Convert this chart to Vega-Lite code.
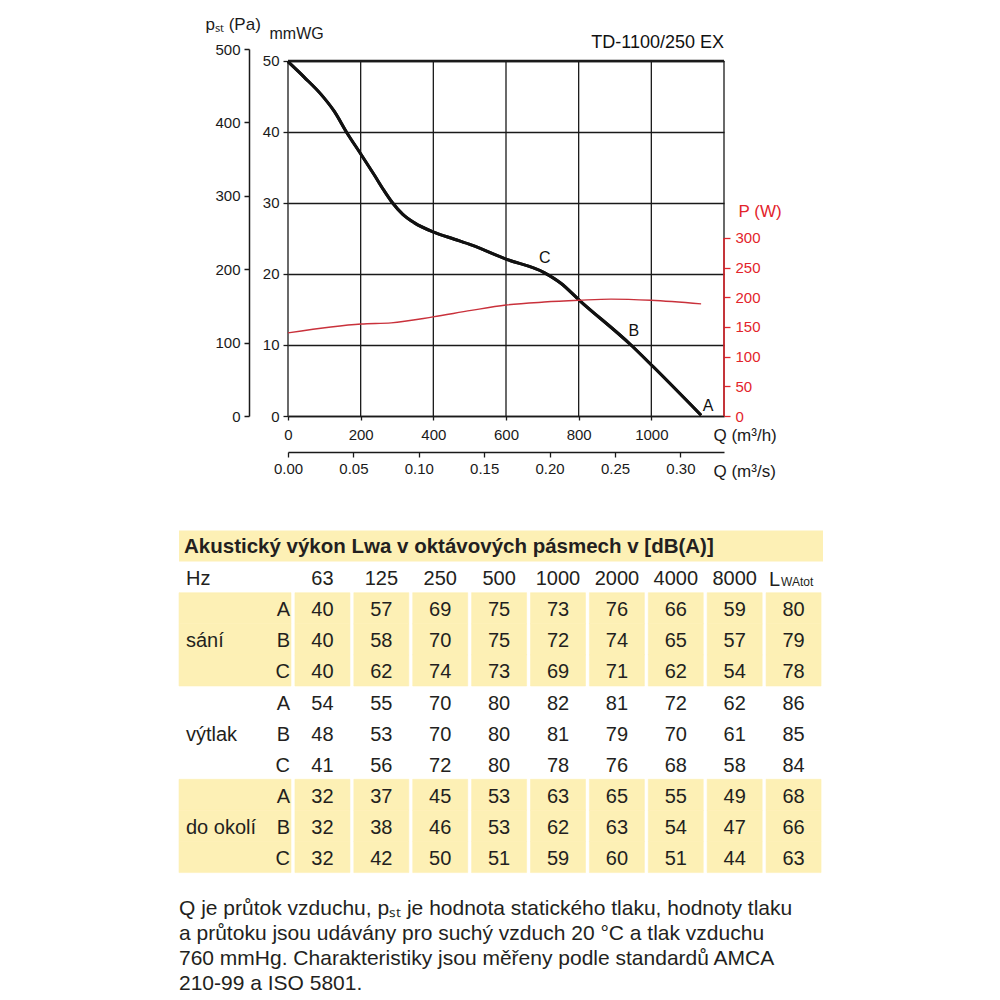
{
  "$schema": "https://vega.github.io/schema/vega-lite/v6.json",
  "padding": {"left": 178, "top": 15, "right": 0, "bottom": 0},
  "background": "white",
  "spacing": 51.5,
  "config": {
    "font": "Liberation Sans",
    "view": {"stroke": null},
    "axis": {"labelFont": "Liberation Sans", "titleFont": "Liberation Sans", "labelColor": "#1a1a1a", "titleColor": "#1a1a1a", "domainColor": "#1a1a1a", "tickColor": "#1a1a1a", "labelFontSize": 15, "titleFontSize": 17, "titleFontWeight": "normal", "grid": false, "labelFlush": false},
    "text": {"font": "Liberation Sans", "color": "#231f20"}
  },
  "datasets": {
    "pressure": [
      {"q": 0, "mmwg": 49.9}, {"q": 45, "mmwg": 47.7}, {"q": 91, "mmwg": 45.3}, {"q": 127.5, "mmwg": 42.9},
      {"q": 162, "mmwg": 39.9}, {"q": 199, "mmwg": 37.0}, {"q": 238, "mmwg": 33.9}, {"q": 265, "mmwg": 31.7},
      {"q": 288, "mmwg": 30.0}, {"q": 316, "mmwg": 28.4}, {"q": 348, "mmwg": 27.2}, {"q": 401, "mmwg": 25.9},
      {"q": 458, "mmwg": 24.9}, {"q": 504, "mmwg": 24.1}, {"q": 600, "mmwg": 22.1}, {"q": 705, "mmwg": 20.2},
      {"q": 751, "mmwg": 18.7}, {"q": 802, "mmwg": 16.3}, {"q": 944, "mmwg": 10.0}, {"q": 1004, "mmwg": 7.0},
      {"q": 1137, "mmwg": 0.1}
    ],
    "power": [
      {"q": 0, "w": 140}, {"q": 118, "w": 150}, {"q": 201, "w": 155}, {"q": 284, "w": 157},
      {"q": 399, "w": 167}, {"q": 504, "w": 178}, {"q": 600, "w": 187}, {"q": 705, "w": 192},
      {"q": 801, "w": 195}, {"q": 889, "w": 197}, {"q": 999, "w": 195}, {"q": 1137, "w": 189}
    ],
    "points": [
      {"pt": "C", "q": 707, "mmwg": 22.25},
      {"pt": "B", "q": 952, "mmwg": 12.0},
      {"pt": "A", "q": 1156, "mmwg": 1.4}
    ],
    "grid": [{"q": 0}, {"q": 200}, {"q": 400}, {"q": 600}, {"q": 800}, {"q": 1000}, {"q": 1200}],
    "table": [
      {"row": "sA", "grp": "s", "m": "A", "63": 40, "125": 57, "250": 69, "500": 75, "1000": 73, "2000": 76, "4000": 66, "8000": 59, "LWAtot": 80},
      {"row": "sB", "grp": "s", "m": "B", "63": 40, "125": 58, "250": 70, "500": 75, "1000": 72, "2000": 74, "4000": 65, "8000": 57, "LWAtot": 79},
      {"row": "sC", "grp": "s", "m": "C", "63": 40, "125": 62, "250": 74, "500": 73, "1000": 69, "2000": 71, "4000": 62, "8000": 54, "LWAtot": 78},
      {"row": "vA", "grp": "v", "m": "A", "63": 54, "125": 55, "250": 70, "500": 80, "1000": 82, "2000": 81, "4000": 72, "8000": 62, "LWAtot": 86},
      {"row": "vB", "grp": "v", "m": "B", "63": 48, "125": 53, "250": 70, "500": 80, "1000": 81, "2000": 79, "4000": 70, "8000": 61, "LWAtot": 85},
      {"row": "vC", "grp": "v", "m": "C", "63": 41, "125": 56, "250": 72, "500": 80, "1000": 78, "2000": 76, "4000": 68, "8000": 58, "LWAtot": 84},
      {"row": "dA", "grp": "d", "m": "A", "63": 32, "125": 37, "250": 45, "500": 53, "1000": 63, "2000": 65, "4000": 55, "8000": 49, "LWAtot": 68},
      {"row": "dB", "grp": "d", "m": "B", "63": 32, "125": 38, "250": 46, "500": 53, "1000": 62, "2000": 63, "4000": 54, "8000": 47, "LWAtot": 66},
      {"row": "dC", "grp": "d", "m": "C", "63": 32, "125": 42, "250": 50, "500": 51, "1000": 59, "2000": 60, "4000": 51, "8000": 44, "LWAtot": 63}
    ],
    "cols": [{"key": "63"}, {"key": "125"}, {"key": "250"}, {"key": "500"}, {"key": "1000"}, {"key": "2000"}, {"key": "4000"}, {"key": "8000"}],
    "groups": [{"row": "hz", "t": "Hz"}, {"row": "sB", "t": "sání"}, {"row": "vB", "t": "výtlak"}, {"row": "dB", "t": "do okolí"}],
    "foot": [
      {"line": "1", "t": "Q je průtok vzduchu, pₛₜ je hodnota statického tlaku, hodnoty tlaku"},
      {"line": "2", "t": "a průtoku jsou udávány pro suchý vzduch 20 °C a tlak vzduchu"},
      {"line": "3", "t": "760 mmHg. Charakteristiky jsou měřeny podle standardů AMCA"},
      {"line": "4", "t": "210-99 a ISO 5801."}
    ]
  },
  "vconcat": [
    {
      "width": 436,
      "height": 367,
      "resolve": {"scale": {"x": "independent", "y": "independent"}, "axis": {"x": "independent", "y": "independent"}},
      "layer": [
        {
          "data": {"values": [{}]},
          "mark": {"type": "rule", "opacity": 0},
          "encoding": {
            "y": {"datum": 0, "type": "quantitative",
              "scale": {"domain": [0, 500], "nice": false, "zero": false},
              "axis": {"orient": "left", "offset": 39, "values": [0, 100, 200, 300, 400, 500], "tickSize": 5, "labelPadding": 4, "domainWidth": 1.5, "tickWidth": 1.5,
                "title": "pₛₜ (Pa)", "titleAngle": 0, "titleAlign": "left", "titleBaseline": "alphabetic", "titleX": -44, "titleY": -20, "titleFontSize": 17}}
          }
        },
        {
          "layer": [
            {
              "data": {"name": "pressure"},
              "mark": {"type": "line", "color": "#111111", "strokeWidth": 3, "interpolate": "monotone"},
              "encoding": {
                "x": {"field": "q", "type": "quantitative", "scale": {"domain": [0, 1200], "nice": false, "zero": false},
                  "axis": {"orient": "bottom", "values": [0, 200, 400, 600, 800, 1000], "format": "d", "tickSize": 4, "labelPadding": 7, "domainWidth": 1.3, "tickWidth": 1.3,
                    "title": "Q (m³/h)", "titleAngle": 0, "titleAlign": "left", "titleBaseline": "alphabetic", "titleX": 425, "titleY": 24.5, "titleFontSize": 17}},
                "y": {"field": "mmwg", "type": "quantitative", "scale": {"domain": [0, 51.69], "nice": false, "zero": false},
                  "axis": {"orient": "left", "offset": 0, "values": [0, 10, 20, 30, 40, 50], "tickSize": 5, "labelPadding": 4, "domain": false, "grid": true, "gridColor": "#1a1a1a", "gridWidth": 1.3, "tickWidth": 1.3,
                    "title": "mmWG", "titleAngle": 0, "titleAlign": "left", "titleBaseline": "alphabetic", "titleX": -19, "titleY": -11, "titleFontSize": 16}}
              }
            },
            {
              "data": {"name": "grid"},
              "mark": {"type": "rule", "color": "#1a1a1a", "strokeWidth": 1.3},
              "encoding": {
                "x": {"field": "q", "type": "quantitative", "scale": {"domain": [0, 1200], "nice": false, "zero": false}},
                "y": {"datum": 0, "type": "quantitative", "scale": {"domain": [0, 51.69], "nice": false, "zero": false}},
                "y2": {"datum": 50}
              }
            },
            {
              "data": {"values": [{}]},
              "mark": {"type": "rule", "color": "#1a1a1a", "strokeWidth": 2.6},
              "encoding": {
                "x": {"datum": 0, "type": "quantitative", "scale": {"domain": [0, 1200], "nice": false, "zero": false}},
                "x2": {"datum": 1200},
                "y": {"datum": 50, "type": "quantitative", "scale": {"domain": [0, 51.69], "nice": false, "zero": false}}
              }
            },
            {
              "data": {"name": "pressure"},
              "mark": {"type": "line", "color": "#111111", "strokeWidth": 3, "interpolate": "monotone"},
              "encoding": {
                "x": {"field": "q", "type": "quantitative", "scale": {"domain": [0, 1200], "nice": false, "zero": false}},
                "y": {"field": "mmwg", "type": "quantitative", "scale": {"domain": [0, 51.69], "nice": false, "zero": false}}
              }
            },
            {
              "data": {"name": "points"},
              "mark": {"type": "text", "fontSize": 16, "baseline": "middle", "align": "center", "color": "#111111"},
              "encoding": {
                "x": {"field": "q", "type": "quantitative", "scale": {"domain": [0, 1200], "nice": false, "zero": false}},
                "y": {"field": "mmwg", "type": "quantitative", "scale": {"domain": [0, 51.69], "nice": false, "zero": false}},
                "text": {"field": "pt"}
              }
            },
            {
              "data": {"values": [{}]},
              "mark": {"type": "text", "fontSize": 18, "align": "right", "baseline": "alphabetic", "dy": -1.5, "text": "TD-1100/250 EX", "color": "#111111"},
              "encoding": {
                "x": {"datum": 1200, "type": "quantitative", "scale": {"domain": [0, 1200], "nice": false, "zero": false}},
                "y": {"datum": 51.69, "type": "quantitative", "scale": {"domain": [0, 51.69], "nice": false, "zero": false}}
              }
            }
          ]
        },
        {
          "layer": [
            {
              "data": {"name": "power"},
              "mark": {"type": "line", "color": "#c9313b", "strokeWidth": 1.4, "interpolate": "monotone"},
              "encoding": {
                "x": {"field": "q", "type": "quantitative", "scale": {"domain": [0, 1200], "nice": false, "zero": false}, "axis": null},
                "y": {"field": "w", "type": "quantitative", "scale": {"domain": [0, 618.5], "nice": false, "zero": false},
                  "axis": {"orient": "right", "values": [0, 50, 100, 150, 200, 250, 300], "domain": false, "tickSize": 6, "labelPadding": 5, "tickColor": "#e3242b", "labelColor": "#e3242b", "tickWidth": 1.3,
                    "title": "P (W)", "titleColor": "#e3242b", "titleAngle": 0, "titleAlign": "left", "titleBaseline": "alphabetic", "titleX": 14, "titleY": 167, "titleFontSize": 17}}
              }
            },
            {
              "data": {"values": [{}]},
              "mark": {"type": "rule", "color": "#e3242b", "strokeWidth": 1.5},
              "encoding": {
                "x": {"datum": 1200, "type": "quantitative"},
                "y": {"datum": 0, "type": "quantitative"},
                "y2": {"datum": 300}
              }
            }
          ]
        },
        {
          "data": {"values": [{}]},
          "mark": {"type": "rule", "opacity": 0},
          "encoding": {
            "x": {"datum": 0, "type": "quantitative", "scale": {"domain": [0, 0.333333], "nice": false, "zero": false},
              "axis": {"orient": "bottom", "offset": 36, "values": [0, 0.05, 0.1, 0.15, 0.2, 0.25, 0.3], "format": ".2f", "tickSize": 5, "labelPadding": 4, "domainWidth": 1.3, "tickWidth": 1.3,
                "title": "Q (m³/s)", "titleAngle": 0, "titleAlign": "left", "titleBaseline": "alphabetic", "titleX": 425, "titleY": 24, "titleFontSize": 17}}
          }
        }
      ]
    },
    {
      "width": 535,
      "height": 467,
      "resolve": {"scale": {"x": "independent", "y": "independent"}, "axis": {"x": "independent", "y": "independent"}},
      "layer": [
        {
          "data": {"values": [{}]},
          "mark": {"type": "rect", "color": "#fdf0b5"},
          "encoding": {
            "x": {"datum": 0, "type": "quantitative", "scale": {"domain": [0, 1], "range": [-109, 535], "nice": false, "zero": false}, "axis": null},
            "x2": {"datum": 1},
            "y": {"datum": "head", "type": "nominal", "scale": {"type": "band", "domain": ["head", "hz", "sA", "sB", "sC", "vA", "vB", "vC", "dA", "dB", "dC"], "range": [0, 342.1], "paddingInner": 0, "paddingOuter": 0}, "axis": null}
          }
        },
        {
          "data": {"name": "table"},
          "transform": [{"filter": {"field": "grp", "oneOf": ["s", "d"]}}],
          "mark": {"type": "rect", "color": "#fdf0b5", "stroke": "#fdf0b5", "strokeWidth": 0.6},
          "encoding": {
            "x": {"datum": 0, "type": "quantitative", "scale": {"domain": [0, 1], "range": [-109, 3], "nice": false, "zero": false}, "axis": null},
            "x2": {"datum": 1},
            "y": {"field": "row", "type": "nominal", "scale": {"type": "band", "domain": ["head", "hz", "sA", "sB", "sC", "vA", "vB", "vC", "dA", "dB", "dC"], "range": [0, 342.1], "paddingInner": 0, "paddingOuter": 0}, "axis": null}
          }
        },
        {
          "data": {"name": "table"},
          "transform": [
            {"filter": {"field": "grp", "oneOf": ["s", "d"]}},
            {"fold": ["63", "125", "250", "500", "1000", "2000", "4000", "8000", "LWAtot"], "as": ["key", "val"]}
          ],
          "mark": {"type": "rect", "color": "#fdf0b5", "stroke": "#fdf0b5", "strokeWidth": 0.6},
          "encoding": {
            "x": {"field": "key", "type": "nominal", "scale": {"type": "band", "domain": ["63", "125", "250", "500", "1000", "2000", "4000", "8000", "LWAtot"], "range": [5, 535], "paddingInner": 0.0662, "paddingOuter": 0.0331}, "axis": null},
            "y": {"field": "row", "type": "nominal", "scale": {"type": "band", "domain": ["head", "hz", "sA", "sB", "sC", "vA", "vB", "vC", "dA", "dB", "dC"], "range": [0, 342.1], "paddingInner": 0, "paddingOuter": 0}, "axis": null}
          }
        },
        {
          "data": {"values": [{}]},
          "mark": {"type": "text", "fontSize": 20.5, "fontWeight": "bold", "align": "left", "baseline": "middle", "dx": 5, "dy": 1, "text": "Akustický výkon Lwa v oktávových pásmech v [dB(A)]"},
          "encoding": {
            "x": {"datum": 0, "type": "quantitative", "scale": {"domain": [0, 1], "range": [-109, 535], "nice": false, "zero": false}, "axis": null},
            "y": {"datum": "head", "type": "nominal", "scale": {"type": "band", "domain": ["head", "hz", "sA", "sB", "sC", "vA", "vB", "vC", "dA", "dB", "dC"], "range": [0, 342.1], "paddingInner": 0, "paddingOuter": 0}, "axis": null}
          }
        },
        {
          "data": {"name": "groups"},
          "mark": {"type": "text", "fontSize": 20, "align": "left", "baseline": "middle", "dx": 7, "dy": 2},
          "encoding": {
            "x": {"datum": 0, "type": "quantitative", "scale": {"domain": [0, 1], "range": [-109, 3], "nice": false, "zero": false}, "axis": null},
            "y": {"field": "row", "type": "nominal", "scale": {"type": "band", "domain": ["head", "hz", "sA", "sB", "sC", "vA", "vB", "vC", "dA", "dB", "dC"], "range": [0, 342.1], "paddingInner": 0, "paddingOuter": 0}, "axis": null},
            "text": {"field": "t"}
          }
        },
        {
          "data": {"name": "table"},
          "mark": {"type": "text", "fontSize": 20, "align": "right", "baseline": "middle", "dx": -1, "dy": 2},
          "encoding": {
            "x": {"datum": 1, "type": "quantitative", "scale": {"domain": [0, 1], "range": [-109, 3], "nice": false, "zero": false}, "axis": null},
            "y": {"field": "row", "type": "nominal", "scale": {"type": "band", "domain": ["head", "hz", "sA", "sB", "sC", "vA", "vB", "vC", "dA", "dB", "dC"], "range": [0, 342.1], "paddingInner": 0, "paddingOuter": 0}, "axis": null},
            "text": {"field": "m"}
          }
        },
        {
          "data": {"name": "cols"},
          "mark": {"type": "text", "fontSize": 20, "align": "center", "baseline": "middle", "dy": 1.5},
          "encoding": {
            "x": {"field": "key", "type": "nominal", "scale": {"type": "band", "domain": ["63", "125", "250", "500", "1000", "2000", "4000", "8000", "LWAtot"], "range": [5, 535], "paddingInner": 0.0662, "paddingOuter": 0.0331}, "axis": null},
            "y": {"datum": "hz", "type": "nominal", "scale": {"type": "band", "domain": ["head", "hz", "sA", "sB", "sC", "vA", "vB", "vC", "dA", "dB", "dC"], "range": [0, 342.1], "paddingInner": 0, "paddingOuter": 0}, "axis": null},
            "text": {"field": "key"}
          }
        },
        {
          "data": {"values": [{}]},
          "mark": {"type": "text", "fontSize": 20, "align": "left", "baseline": "alphabetic", "dx": -24.5, "dy": 9, "text": "L"},
          "encoding": {
            "x": {"datum": "LWAtot", "type": "nominal", "scale": {"type": "band", "domain": ["63", "125", "250", "500", "1000", "2000", "4000", "8000", "LWAtot"], "range": [5, 535], "paddingInner": 0.0662, "paddingOuter": 0.0331}, "axis": null},
            "y": {"datum": "hz", "type": "nominal", "scale": {"type": "band", "domain": ["head", "hz", "sA", "sB", "sC", "vA", "vB", "vC", "dA", "dB", "dC"], "range": [0, 342.1], "paddingInner": 0, "paddingOuter": 0}, "axis": null}
          }
        },
        {
          "data": {"values": [{}]},
          "mark": {"type": "text", "fontSize": 12, "align": "left", "baseline": "alphabetic", "dx": -12.5, "dy": 9, "text": "WAtot"},
          "encoding": {
            "x": {"datum": "LWAtot", "type": "nominal", "scale": {"type": "band", "domain": ["63", "125", "250", "500", "1000", "2000", "4000", "8000", "LWAtot"], "range": [5, 535], "paddingInner": 0.0662, "paddingOuter": 0.0331}, "axis": null},
            "y": {"datum": "hz", "type": "nominal", "scale": {"type": "band", "domain": ["head", "hz", "sA", "sB", "sC", "vA", "vB", "vC", "dA", "dB", "dC"], "range": [0, 342.1], "paddingInner": 0, "paddingOuter": 0}, "axis": null}
          }
        },
        {
          "data": {"name": "table"},
          "transform": [
            {"fold": ["63", "125", "250", "500", "1000", "2000", "4000", "8000", "LWAtot"], "as": ["key", "val"]}
          ],
          "mark": {"type": "text", "fontSize": 20, "align": "center", "baseline": "middle", "dy": 2},
          "encoding": {
            "x": {"field": "key", "type": "nominal", "scale": {"type": "band", "domain": ["63", "125", "250", "500", "1000", "2000", "4000", "8000", "LWAtot"], "range": [5, 535], "paddingInner": 0.0662, "paddingOuter": 0.0331}, "axis": null},
            "y": {"field": "row", "type": "nominal", "scale": {"type": "band", "domain": ["head", "hz", "sA", "sB", "sC", "vA", "vB", "vC", "dA", "dB", "dC"], "range": [0, 342.1], "paddingInner": 0, "paddingOuter": 0}, "axis": null},
            "text": {"field": "val", "type": "quantitative"}
          }
        },
        {
          "data": {"name": "foot"},
          "mark": {"type": "text", "fontSize": 21, "align": "left", "baseline": "middle"},
          "encoding": {
            "x": {"datum": 0, "type": "quantitative", "scale": {"domain": [0, 1], "range": [-109, 3], "nice": false, "zero": false}, "axis": null},
            "y": {"field": "line", "type": "nominal", "scale": {"type": "band", "domain": ["1", "2", "3", "4"], "range": [365.5, 466.5], "paddingInner": 0, "paddingOuter": 0}, "axis": null},
            "text": {"field": "t"}
          }
        }
      ]
    }
  ]
}
